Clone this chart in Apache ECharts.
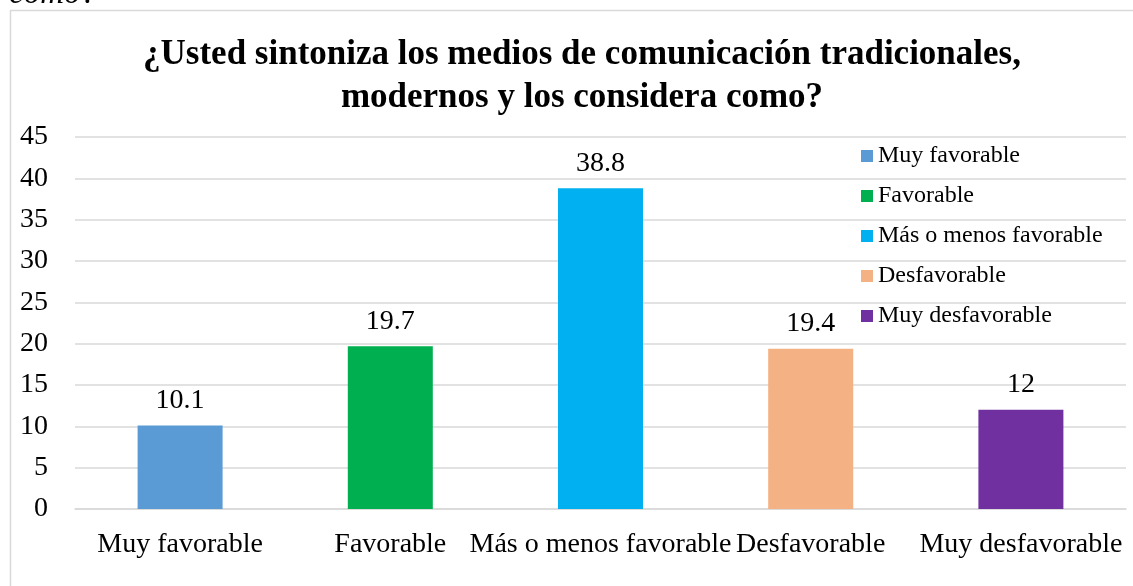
<!DOCTYPE html>
<html>
<head>
<meta charset="utf-8">
<script src="https://cdn.jsdelivr.net/npm/echarts@6/dist/echarts.min.js"></script>
<style>
html,body{margin:0;padding:0;background:#fff;}
#c{width:1133px;height:586px;}
</style>
</head>
<body>
<div id="c"></div>
<script>
const categories = ['Muy favorable', 'Favorable', 'Más o menos favorable', 'Desfavorable', 'Muy desfavorable'];
const values = [10.1, 19.7, 38.8, 19.4, 12];
const colors = ['#5b9bd5', '#00b050', '#00b0f0', '#f4b183', '#7030a0'];
const yTicks = { min: 0, max: 45, interval: 5 };
const titleText = '¿Usted sintoniza los medios de comunicación tradicionales,\nmodernos y los considera como?';

const FONT = '"Liberation Serif", "Times New Roman", serif';

const series = categories.map((name, i) => ({
  name: name,
  type: 'bar',
  barWidth: 85,
  barGap: '-100%',
  itemStyle: { color: colors[i] },
  label: {
    show: true, position: 'top', distance: 11,
    color: '#000', fontFamily: FONT, fontSize: 28
  },
  data: categories.map((c, j) => j === i ? values[i] : '-')
}));

const chart = echarts.init(document.getElementById('c'), null, { renderer: 'canvas' });
chart.setOption({
  animation: false,
  backgroundColor: '#fff',
  title: {
    text: titleText,
    left: 577, top: 28, textAlign: 'center',
    textStyle: { fontFamily: FONT, fontSize: 35, fontWeight: 'bold', color: '#000', lineHeight: 43 }
  },
  legend: {
    orient: 'vertical',
    left: 856, top: 139,
    itemWidth: 12, itemHeight: 12, itemGap: 16,
    icon: 'rect',
    textStyle: { fontFamily: FONT, fontSize: 24, color: '#000', lineHeight: 24 },
    data: categories
  },
  grid: { left: 75, right: 7, top: 137, bottom: 77, containLabel: false },
  xAxis: {
    type: 'category',
    data: categories,
    axisLine: { lineStyle: { color: '#d9d9d9', width: 1.5 } },
    axisTick: { show: false },
    axisLabel: { interval: 0, hideOverlap: false, margin: 22, color: '#000', fontFamily: FONT, fontSize: 28 }
  },
  yAxis: {
    type: 'value',
    min: yTicks.min, max: yTicks.max, interval: yTicks.interval,
    axisLine: { show: false },
    axisTick: { show: false },
    splitLine: { lineStyle: { color: '#d9d9d9', width: 1.5 } },
    axisLabel: { margin: 27, color: '#000', fontFamily: FONT, fontSize: 28 }
  },
  graphic: [
    { type: 'rect', shape: { x: 10.5, y: 10.5, width: 1140, height: 600 },
      style: { fill: 'none', stroke: '#d9d9d9', lineWidth: 1.5 }, z: -1 },
    { type: 'text', x: 9, y: 11,
      style: { text: 'como?', font: 'italic 33px "Liberation Serif", serif', fill: '#000', verticalAlign: 'bottom' } }
  ],
  series: series
});
</script>
</body>
</html>
